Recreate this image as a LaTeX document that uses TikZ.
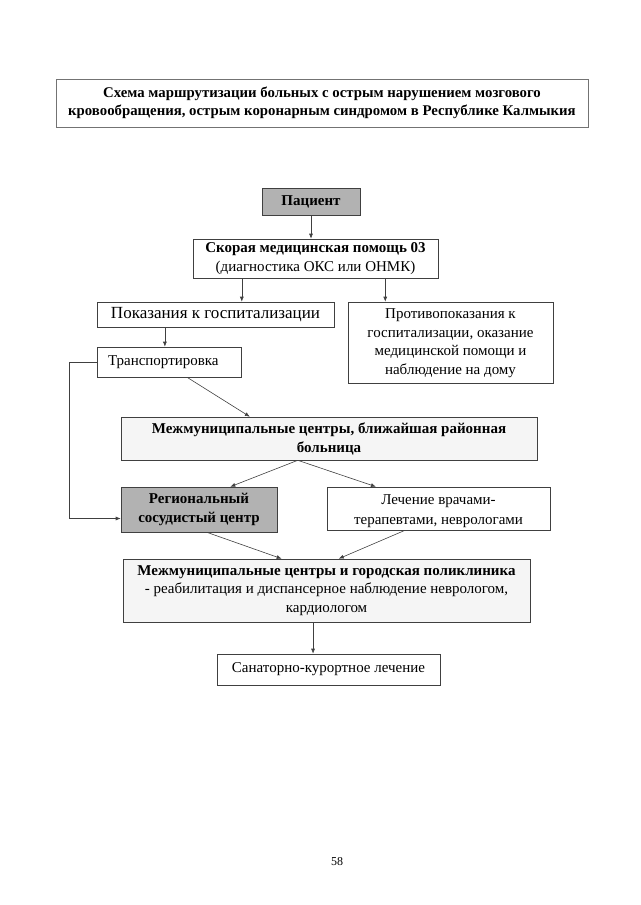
\documentclass[tikz,border=0pt]{standalone}
\usepackage{fontspec}
\setmainfont{Liberation Serif}
\usetikzlibrary{arrows.meta, calc}

\begin{document}
\begin{tikzpicture}[x=1pt, y=-1pt,
    box/.style={draw=black!75, line width=0.6pt, inner sep=0pt, align=center,
      font=\fontsize{15}{19.7}\selectfont},
    dark/.style={box, fill=gray!60},
    light/.style={box, fill=gray!8},
    arr/.style={-{Latex[length=5pt, width=4pt]}, black!75, line width=0.6pt}]
  \useasboundingbox (0,0) rectangle (640,905);

  % title
  \node[box, draw=black!55, minimum width=532, minimum height=48,
    font=\bfseries\fontsize{14.8}{18}\selectfont] (title) at (322,103)
    {Схема маршрутизации больных с острым нарушением мозгового\\
     кровообращения, острым коронарным синдромом в Республике Калмыкия};

  % boxes
  \node[dark, minimum width=98, minimum height=27, font=\bfseries\fontsize{15}{18}\selectfont]
    (patient) at (311,201.5) {Пациент};
  \node[box, minimum width=245, minimum height=39] (ambulance) at (315.5,258.5)
    {\textbf{Скорая медицинская помощь 03}\\(диагностика ОКС или ОНМК)};
  \node[box, minimum width=237, minimum height=25, font=\fontsize{17}{19}\selectfont]
    (indic) at (215.5,314.5) {Показания к госпитализации};
  \node[box, minimum width=205, minimum height=81, font=\fontsize{15}{18.7}\selectfont]
    (contra) at (450.5,342.5)
    {\raisebox{-3pt}[36pt][34pt]{\begin{tabular}{@{}c@{}}Противопоказания к\\
     госпитализации, оказание\\медицинской помощи и\\наблюдение на дому\end{tabular}}};
  \node[box, text width=130, inner xsep=7, align=left, minimum height=30] (transport) at (169,362)
    {\hspace{4pt}Транспортировка};
  \node[light, minimum width=416, minimum height=43, font=\bfseries\fontsize{15}{19}\selectfont]
    (district) at (329,438.5)
    {Межмуниципальные центры, ближайшая районная\\больница};
  \node[dark, minimum width=156, minimum height=45, font=\bfseries\fontsize{15}{19}\selectfont]
    (vascular) at (199,509.5) {Региональный\\сосудистый центр};
  \node[box, minimum width=223, minimum height=43] (therapy) at (438.5,508.5)
    {\raisebox{-6pt}[17pt][17pt]{\begin{tabular}{@{}c@{}}Лечение врачами-\\
     терапевтами, неврологами\end{tabular}}};
  \node[light, minimum width=407, minimum height=63, font=\fontsize{15}{18.5}\selectfont]
    (clinic) at (326.5,590.5)
    {\textbf{Межмуниципальные центры и городская поликлиника}\\
     - реабилитация и диспансерное наблюдение неврологом,\\кардиологом};
  \node[box, minimum width=223, minimum height=31] (resort) at (328.5,669.5)
    {Санаторно-курортное лечение};

  \node[font=\fontsize{12}{14}\selectfont] (page) at (337,862) {58};

  % helper points on box edges
  \coordinate (a1) at ($(ambulance.south west)!0.2!(ambulance.south east)$);
  \coordinate (a2) at ($(ambulance.south west)!0.784!(ambulance.south east)$);
  \coordinate (i1) at ($(indic.south west)!0.287!(indic.south east)$);
  \coordinate (t1) at ($(transport.south west)!0.625!(transport.south east)$);
  \coordinate (d0) at ($(district.north west)!0.31!(district.north east)$);
  \coordinate (d1) at ($(district.south west)!0.425!(district.south east)$);
  \coordinate (v0) at ($(vascular.north west)!0.7!(vascular.north east)$);
  \coordinate (h0) at ($(therapy.north west)!0.22!(therapy.north east)$);
  \coordinate (v1) at ($(vascular.south west)!0.55!(vascular.south east)$);
  \coordinate (h1) at ($(therapy.south west)!0.35!(therapy.south east)$);
  \coordinate (c0) at ($(clinic.north west)!0.39!(clinic.north east)$);
  \coordinate (c1) at ($(clinic.north west)!0.53!(clinic.north east)$);
  \coordinate (c2) at ($(clinic.south west)!0.467!(clinic.south east)$);

  % connectors
  \draw[arr] (patient.south) -- (patient.south |- ambulance.north);
  \draw[arr] (a1) -- (a1 |- indic.north);
  \draw[arr] (a2) -- (a2 |- contra.north);
  \draw[arr] (i1) -- (i1 |- transport.north);
  \draw[arr] (t1) -- (d0);
  \draw[arr] (transport.west) -- ++(-27,0) |- ([yshift=-9]vascular.west);
  \draw[arr] (d1) -- (v0);
  \draw[arr] (d1) -- (h0);
  \draw[arr] (v1) -- (c0);
  \draw[arr] (h1) -- (c1);
  \draw[arr] (c2) -- (c2 |- resort.north);
\end{tikzpicture}
\end{document}
